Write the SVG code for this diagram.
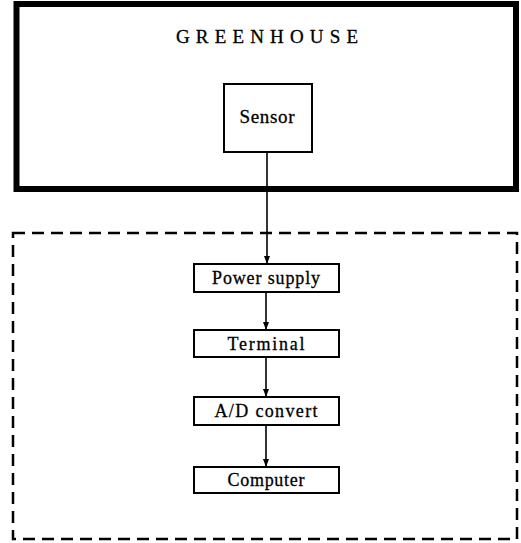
<svg xmlns="http://www.w3.org/2000/svg" width="521" height="543" viewBox="0 0 521 543">
<style>
.box{fill:#fff;stroke:#000;stroke-width:2}
.lbl{font-family:"Liberation Serif","DejaVu Serif",serif;font-size:18px;fill:#000;text-anchor:middle;stroke:#000;stroke-width:0.3}
.conn{stroke:#000;stroke-width:1.6;fill:none}
</style>
<defs>
<marker id="arr" viewBox="0 0 8 12" refX="8" refY="6" markerWidth="8" markerHeight="12" markerUnits="userSpaceOnUse" orient="auto">
<path d="M0,3 L8,6 L0,9 Z" fill="#000"/>
</marker>
</defs>
<rect width="521" height="543" fill="#fff"/>
<g id="greenhouse">
<rect x="16.5" y="4" width="499.5" height="185" fill="none" stroke="#000" stroke-width="6"/>
<text x="267" y="43" class="lbl" style="font-size:19px" textLength="182">GREENHOUSE</text>
</g>
<g id="system">
<rect x="13" y="233" width="504" height="306" fill="none" stroke="#000" stroke-width="2.5" stroke-dasharray="12 7"/>
</g>
<g id="connectors">
<line class="conn" x1="267" y1="152" x2="267" y2="264" marker-end="url(#arr)"/>
<line class="conn" x1="266" y1="292" x2="266" y2="330" marker-end="url(#arr)"/>
<line class="conn" x1="266" y1="357" x2="266" y2="397" marker-end="url(#arr)"/>
<line class="conn" x1="266" y1="425" x2="266" y2="467" marker-end="url(#arr)"/>
</g>
<g id="sensor">
<rect class="box" x="224" y="84" width="88" height="68"/>
<text x="267" y="123" class="lbl" style="font-size:19px" textLength="55">Sensor</text>
</g>
<g id="power-supply">
<rect class="box" x="194" y="264" width="145" height="28"/>
<text x="266" y="284" class="lbl" textLength="108">Power supply</text>
</g>
<g id="terminal">
<rect class="box" x="194" y="330" width="145" height="27"/>
<text x="266" y="350" class="lbl" textLength="77">Terminal</text>
</g>
<g id="ad-convert">
<rect class="box" x="194" y="397" width="145" height="28"/>
<text x="266" y="417" class="lbl" textLength="103">A/D convert</text>
</g>
<g id="computer">
<rect class="box" x="194" y="467" width="145" height="26"/>
<text x="266" y="486" class="lbl" textLength="77">Computer</text>
</g>
</svg>
